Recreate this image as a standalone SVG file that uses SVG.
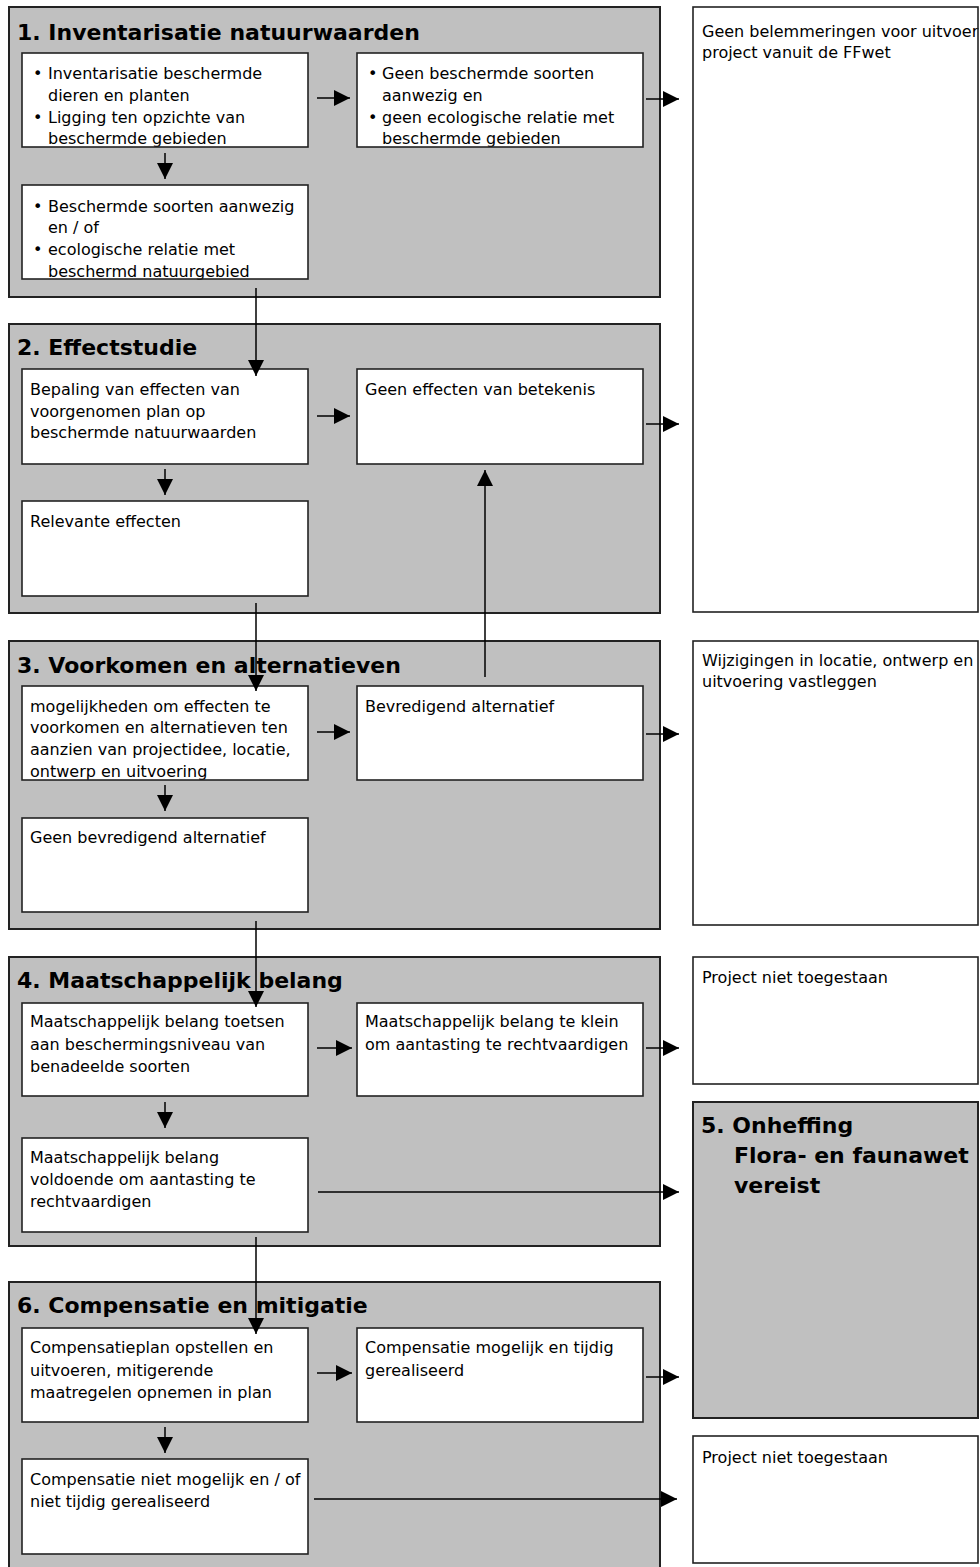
<svg xmlns="http://www.w3.org/2000/svg" width="980" height="1567" viewBox="0 0 980 1567">
<style>
.sec{fill:#c0c0c0;stroke:#222;stroke-width:2}
.bx{fill:#fff;stroke:none}
.bo{fill:none;stroke:#222;stroke-width:1.6}
.rb{fill:#fff;stroke:#222;stroke-width:1.6}
text{font-family:"DejaVu Sans",Verdana,sans-serif;font-size:16px;fill:#000}
.h{font-weight:bold;font-size:22px}
.c{stroke:#000;stroke-width:1.5;fill:none}
</style>
<defs>
<marker id="ah" markerUnits="userSpaceOnUse" markerWidth="17" markerHeight="16" refX="16" refY="8" orient="auto">
<path d="M0,0 L16,8 L0,16 z" fill="#000"/>
</marker>
</defs>
<rect width="980" height="1567" fill="#fff"/>

<g id="sec1"><rect class="sec" x="9" y="7" width="651" height="290"/><text class="h" x="17" y="40">1. Inventarisatie natuurwaarden</text></g>
<g id="sec2"><rect class="sec" x="9" y="324" width="651" height="289"/><text class="h" x="17" y="355">2. Effectstudie</text></g>
<g id="sec3"><rect class="sec" x="9" y="641" width="651" height="288"/><text class="h" x="17" y="673">3. Voorkomen en alternatieven</text></g>
<g id="sec4"><rect class="sec" x="9" y="957" width="651" height="289"/><text class="h" x="17" y="988">4. Maatschappelijk belang</text></g>
<g id="sec6"><rect class="sec" x="9" y="1282" width="651" height="300"/><text class="h" x="17" y="1313">6. Compensatie en mitigatie</text></g>

<g id="n1a"><rect class="bx" x="22" y="53" width="286" height="94"/>
<text x="33" y="79">•</text><text x="48" y="79">Inventarisatie beschermde</text>
<text x="48" y="101">dieren en planten</text>
<text x="33" y="123">•</text><text x="48" y="123">Ligging ten opzichte van</text>
<text x="48" y="144">beschermde gebieden</text>
<rect class="bo" x="22" y="53" width="286" height="94"/></g>
<g id="n1b"><rect class="bx" x="357" y="53" width="286" height="94"/>
<text x="368" y="79">•</text><text x="382" y="79">Geen beschermde soorten</text>
<text x="382" y="101">aanwezig en</text>
<text x="368" y="123">•</text><text x="382" y="123">geen ecologische relatie met</text>
<text x="382" y="144">beschermde gebieden</text>
<rect class="bo" x="357" y="53" width="286" height="94"/></g>
<g id="n1c"><rect class="bx" x="22" y="185" width="286" height="94"/>
<text x="33" y="212">•</text><text x="48" y="212">Beschermde soorten aanwezig</text>
<text x="48" y="233">en / of</text>
<text x="33" y="255">•</text><text x="48" y="255">ecologische relatie met</text>
<text x="48" y="277">beschermd natuurgebied</text>
<rect class="bo" x="22" y="185" width="286" height="94"/></g>

<g id="n2a"><rect class="rb" x="22" y="369" width="286" height="95"/>
<text x="30" y="395">Bepaling van effecten van</text>
<text x="30" y="417">voorgenomen plan op</text>
<text x="30" y="438">beschermde natuurwaarden</text></g>
<g id="n2b"><rect class="rb" x="357" y="369" width="286" height="95"/>
<text x="365" y="395">Geen effecten van betekenis</text></g>
<g id="n2c"><rect class="rb" x="22" y="501" width="286" height="95"/>
<text x="30" y="527">Relevante effecten</text></g>

<g id="n3a"><rect class="bx" x="22" y="686" width="286" height="94"/>
<text x="30" y="712">mogelijkheden om effecten te</text>
<text x="30" y="733">voorkomen en alternatieven ten</text>
<text x="30" y="755">aanzien van projectidee, locatie,</text>
<text x="30" y="777">ontwerp en uitvoering</text>
<rect class="bo" x="22" y="686" width="286" height="94"/></g>
<g id="n3b"><rect class="rb" x="357" y="686" width="286" height="94"/>
<text x="365" y="712">Bevredigend alternatief</text></g>
<g id="n3c"><rect class="rb" x="22" y="818" width="286" height="94"/>
<text x="30" y="843">Geen bevredigend alternatief</text></g>

<g id="n4a"><rect class="rb" x="22" y="1003" width="286" height="93"/>
<text x="30" y="1027">Maatschappelijk belang toetsen</text>
<text x="30" y="1050">aan beschermingsniveau van</text>
<text x="30" y="1072">benadeelde soorten</text></g>
<g id="n4b"><rect class="rb" x="357" y="1003" width="286" height="93"/>
<text x="365" y="1027">Maatschappelijk belang te klein</text>
<text x="365" y="1050">om aantasting te rechtvaardigen</text></g>
<g id="n4c"><rect class="rb" x="22" y="1138" width="286" height="94"/>
<text x="30" y="1163">Maatschappelijk belang</text>
<text x="30" y="1185">voldoende om aantasting te</text>
<text x="30" y="1207">rechtvaardigen</text></g>

<g id="n6a"><rect class="rb" x="22" y="1328" width="286" height="94"/>
<text x="30" y="1353">Compensatieplan opstellen en</text>
<text x="30" y="1376">uitvoeren, mitigerende</text>
<text x="30" y="1398">maatregelen opnemen in plan</text></g>
<g id="n6b"><rect class="rb" x="357" y="1328" width="286" height="94"/>
<text x="365" y="1353">Compensatie mogelijk en tijdig</text>
<text x="365" y="1376">gerealiseerd</text></g>
<g id="n6c"><rect class="rb" x="22" y="1459" width="286" height="95"/>
<text x="30" y="1485">Compensatie niet mogelijk en / of</text>
<text x="30" y="1507">niet tijdig gerealiseerd</text></g>

<g id="r1"><rect class="bx" x="693" y="7" width="285" height="605"/>
<text x="702" y="36.5">Geen belemmeringen voor uitvoer</text>
<text x="702" y="57.5">project vanuit de FFwet</text>
<rect class="bo" x="693" y="7" width="285" height="605"/></g>
<g id="r2"><rect class="bx" x="693" y="641" width="285" height="284"/>
<text x="702" y="666">Wijzigingen in locatie, ontwerp en</text>
<text x="702" y="687">uitvoering vastleggen</text>
<rect class="bo" x="693" y="641" width="285" height="284"/></g>
<g id="r3"><rect class="rb" x="693" y="957" width="285" height="127"/>
<text x="702" y="983">Project niet toegestaan</text></g>
<g id="r5"><rect class="sec" x="693" y="1102" width="285" height="316"/>
<text class="h" x="701" y="1133">5. Onheffing</text>
<text class="h" x="734" y="1163">Flora- en faunawet</text>
<text class="h" x="734" y="1193">vereist</text></g>
<g id="r4"><rect class="rb" x="693" y="1436" width="285" height="127"/>
<text x="702" y="1463">Project niet toegestaan</text></g>

<g id="connectors" marker-end="url(#ah)">
<line class="c" x1="317" y1="98" x2="350" y2="98" marker-end="url(#ah)"/>
<line class="c" x1="646" y1="99" x2="679" y2="99" marker-end="url(#ah)"/>
<line class="c" x1="165" y1="153" x2="165" y2="179" marker-end="url(#ah)"/>
<line class="c" x1="256" y1="288" x2="256" y2="376" marker-end="url(#ah)"/>
<line class="c" x1="317" y1="416" x2="350" y2="416" marker-end="url(#ah)"/>
<line class="c" x1="646" y1="424" x2="679" y2="424" marker-end="url(#ah)"/>
<line class="c" x1="165" y1="469" x2="165" y2="495" marker-end="url(#ah)"/>
<line class="c" x1="485" y1="677" x2="485" y2="470" marker-end="url(#ah)"/>
<line class="c" x1="256" y1="603" x2="256" y2="691" marker-end="url(#ah)"/>
<line class="c" x1="317" y1="732" x2="350" y2="732" marker-end="url(#ah)"/>
<line class="c" x1="646" y1="734" x2="679" y2="734" marker-end="url(#ah)"/>
<line class="c" x1="165" y1="785" x2="165" y2="811" marker-end="url(#ah)"/>
<line class="c" x1="256" y1="921" x2="256" y2="1007" marker-end="url(#ah)"/>
<line class="c" x1="317" y1="1048" x2="352" y2="1048" marker-end="url(#ah)"/>
<line class="c" x1="646" y1="1048" x2="679" y2="1048" marker-end="url(#ah)"/>
<line class="c" x1="165" y1="1102" x2="165" y2="1128" marker-end="url(#ah)"/>
<line class="c" x1="318" y1="1192" x2="679" y2="1192" marker-end="url(#ah)"/>
<line class="c" x1="256" y1="1237" x2="256" y2="1334" marker-end="url(#ah)"/>
<line class="c" x1="317" y1="1373" x2="352" y2="1373" marker-end="url(#ah)"/>
<line class="c" x1="646" y1="1377" x2="679" y2="1377" marker-end="url(#ah)"/>
<line class="c" x1="165" y1="1427" x2="165" y2="1453" marker-end="url(#ah)"/>
<line class="c" x1="314" y1="1499" x2="677" y2="1499" marker-end="url(#ah)"/>
</g>
</svg>
